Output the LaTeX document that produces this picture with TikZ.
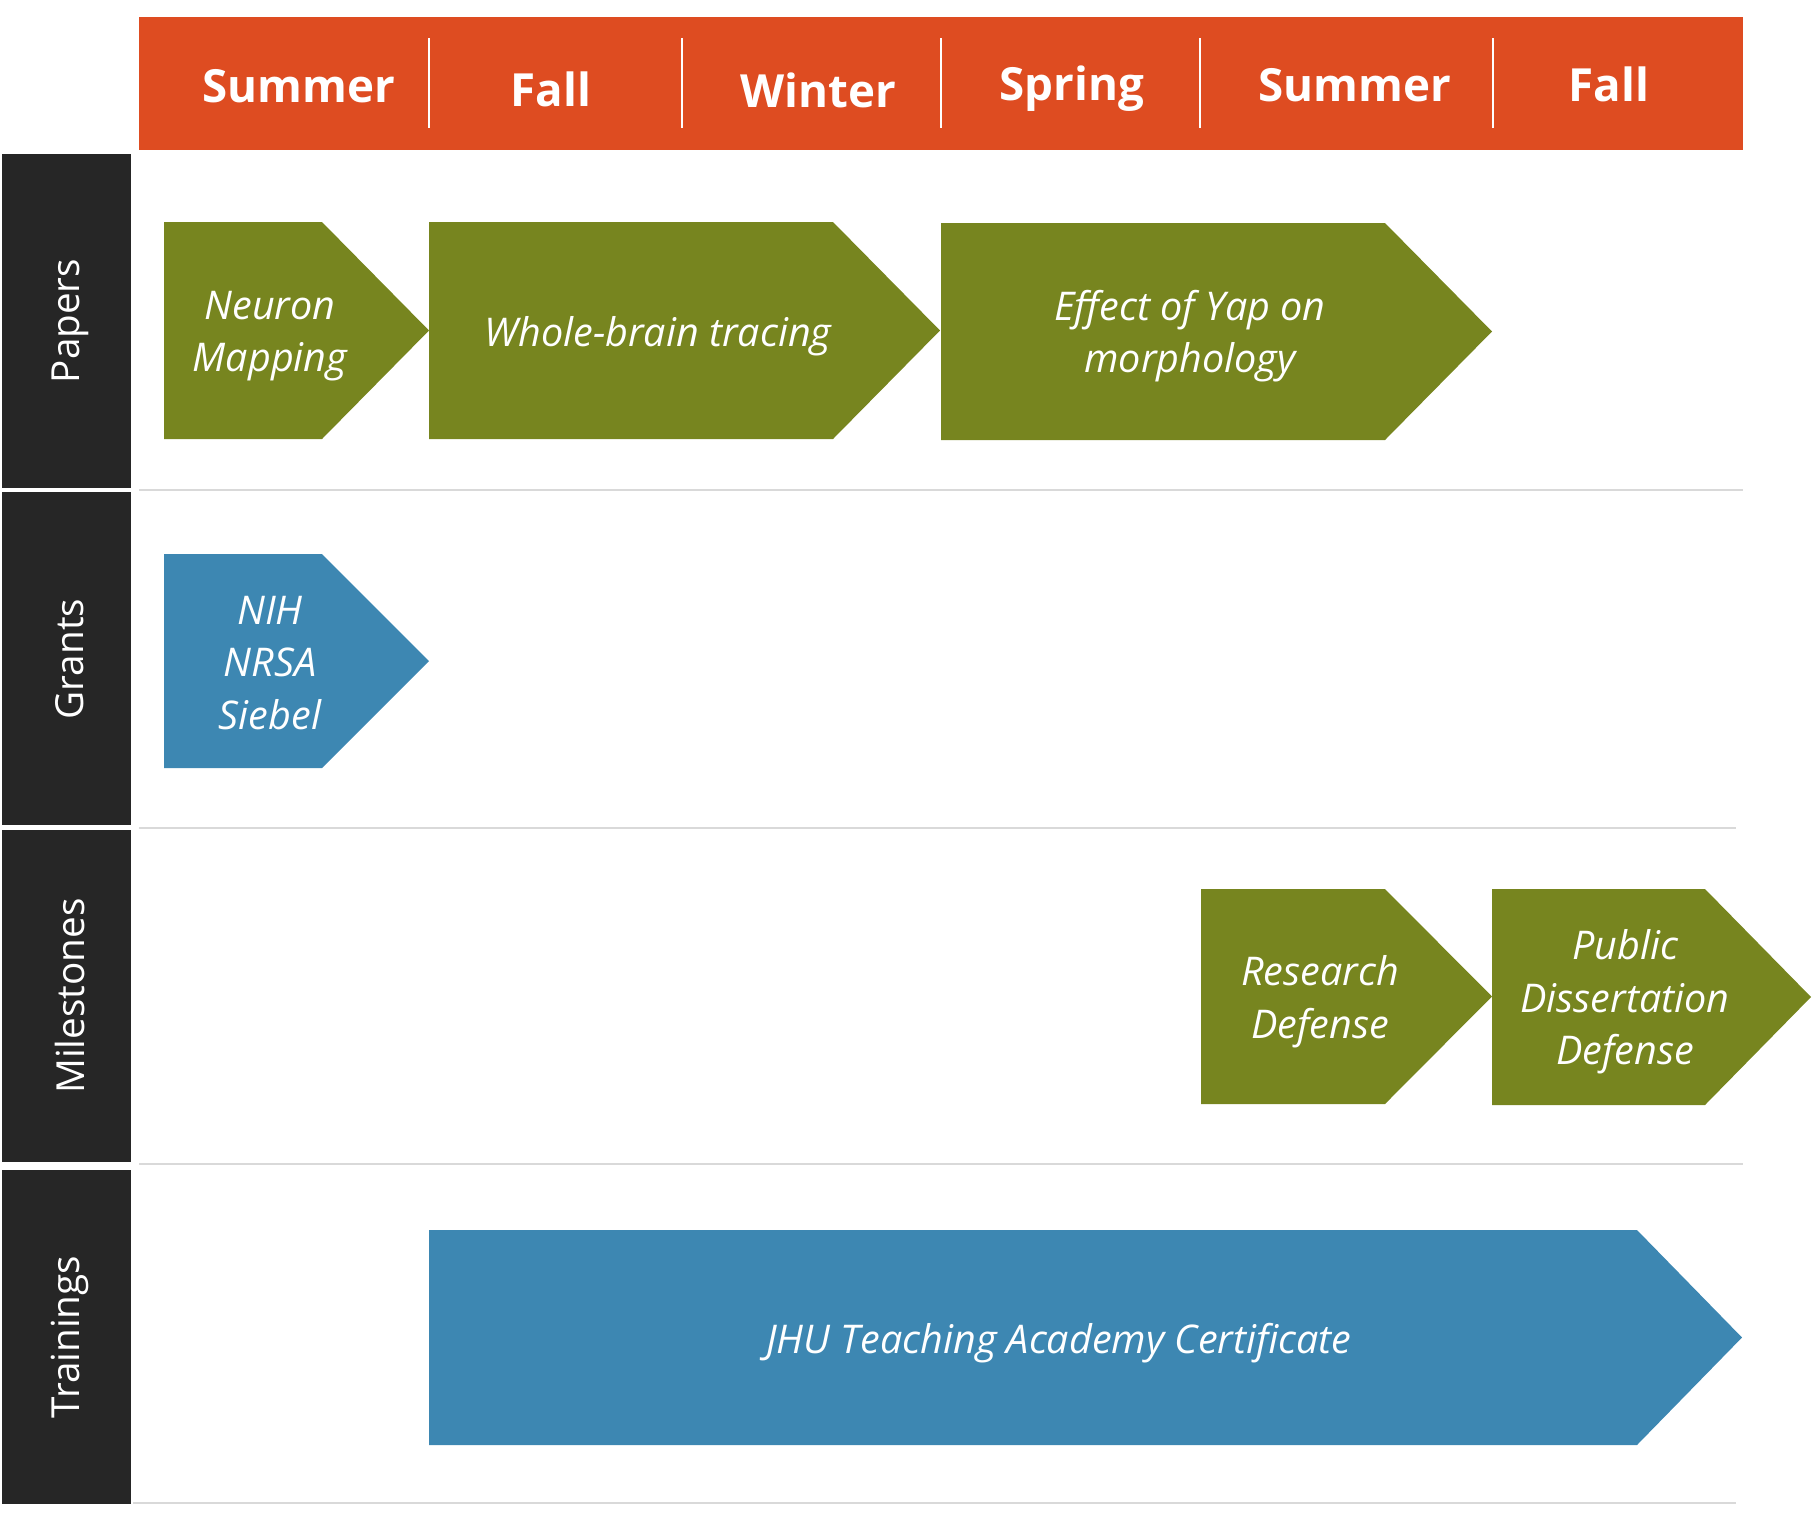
\documentclass[tikz,border=0pt]{standalone}
\usepackage{fontspec}
\setmainfont{Open Sans}
\definecolor{hdrorange}{RGB}{222,76,33}
\definecolor{chevgreen}{RGB}{119,133,31}
\definecolor{chevblue}{RGB}{61,135,178}
\definecolor{rowdark}{RGB}{38,38,38}
\definecolor{sepgray}{RGB}{217,217,217}

\begin{document}
\begin{tikzpicture}[x=0.02cm, y=-0.02cm,
  season/.style={text=white, anchor=base, font=\bfseries\fontsize{26}{30}\selectfont},
  rowlab/.style={text=white, rotate=90, font=\fontsize{22}{26}\selectfont},
  chevtxt/.style={text=white, align=center, font=\itshape\fontsize{22.5}{30}\selectfont},
  sep/.style={draw=sepgray, line width=1.2pt}]

\useasboundingbox (0,0) rectangle (1820,1519);

% Season header
\fill[hdrorange] (139,17) rectangle (1743,150);
\foreach \x in {429,682,941,1200,1493}
  \draw[white, line width=0.8pt] (\x,38) -- (\x,128);
\node[season] (sum1) at (299,102) {Summer};
\node[season] (fall1) at (551,106) {Fall};
\node[season] (win) at (818,107) {Winter};
\node[season] (spr) at (1072,100) {Spring};
\node[season] (sum2) at (1355,101) {Summer};
\node[season] (fall2) at (1609,101) {Fall};

% Row labels
\fill[rowdark] (2,154) rectangle (131,488);
\fill[rowdark] (2,492) rectangle (131,825);
\fill[rowdark] (2,830) rectangle (131,1162);
\fill[rowdark] (2,1170) rectangle (131,1504);
\node[rowlab] (papers) at (70,321) {Papers};
\node[rowlab] (grants) at (70,659) {Grants};
\node[rowlab] (miles) at (70,996) {Milestones};
\node[rowlab] (train) at (70,1337) {Trainings};

% Row separators
\draw[sep] (139,490) -- (1743,490);
\draw[sep] (139,828) -- (1736,828);
\draw[sep] (139,1164) -- (1743,1164);
\draw[sep] (133,1503) -- (1736,1503);

% Papers
\fill[chevgreen] (164,222) -- (322,222) -- (429,330.5) -- (322,439) -- (164,439) -- cycle;
\fill[chevgreen] (429,222) -- (833,222) -- (940,330.5) -- (833,439) -- (429,439) -- cycle;
\fill[chevgreen] (941,223) -- (1385,223) -- (1492,331.5) -- (1385,440) -- (941,440) -- cycle;
\node[chevtxt] (neuron) at (270,336) {Neuron\\Mapping};
\node[chevtxt] (whole) at (658,336) {Whole-brain tracing};
\node[chevtxt] (yap) at (1190,336) {Effect of Yap on\\morphology};

% Grants
\fill[chevblue] (164,554) -- (322,554) -- (429,661) -- (322,768) -- (164,768) -- cycle;
\node[chevtxt] (nih) at (270,663) {NIH\\NRSA\\Siebel};

% Milestones
\fill[chevgreen] (1201,889) -- (1385,889) -- (1492,996.5) -- (1385,1104) -- (1201,1104) -- cycle;
\fill[chevgreen] (1492,889) -- (1705,889) -- (1811,997) -- (1705,1105) -- (1492,1105) -- cycle;
\node[chevtxt] (resdef) at (1320,1002) {Research\\Defense};
\node[chevtxt] (pubdef) at (1625,1002) {Public\\Dissertation\\Defense};

% Trainings
\fill[chevblue] (429,1230) -- (1637,1230) -- (1742,1337.5) -- (1637,1445) -- (429,1445) -- cycle;
\node[chevtxt] (jhu) at (1059,1343) {JHU Teaching Academy Certificate};

\end{tikzpicture}
\end{document}
